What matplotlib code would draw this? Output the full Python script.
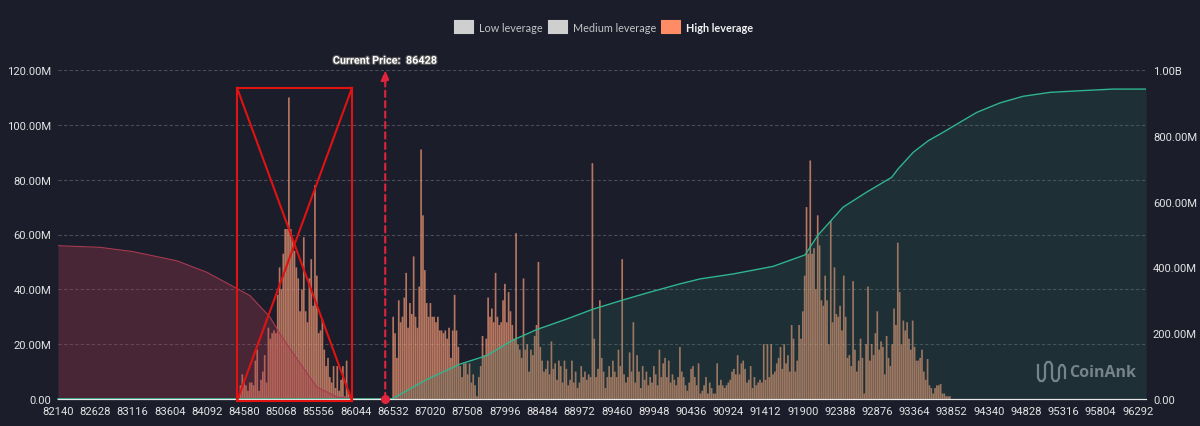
import matplotlib
matplotlib.use("Agg")
import matplotlib.pyplot as plt
import matplotlib.patheffects as pe
import numpy as np
from matplotlib.lines import Line2D
from matplotlib.patches import Patch, Rectangle

plt.rcParams["font.family"] = ["Roboto", "DejaVu Sans"]

BG = "#1b1d2b"

# x labels are every 20th bar, 488 apart
tick_prices = [82140 + 488 * k for k in range(30)]
price_step = 488 / 20
current_price = 86428

left_start = 98
left_bars = [5, 9, 6, 5, 3, 6, 6, 5, 14, 18,
             3, 7, 10, 16, 6, 26, 22, 24, 25, 24,
             38, 48, 40, 53, 62, 62, 110, 62, 58, 54,
             48, 44, 32, 40, 59, 32, 28, 44, 51, 34,
             78, 45, 24, 25, 29, 18, 12, 15, 8, 6,
             12, 4, 12, 3, 7, 12, 1, 14, 3]

right_start = 180
right_bars = [30, 24, 15, 36, 28, 30, 37, 46, 26, 35,
              31, 52, 30, 26, 41, 91, 67, 47, 35, 30,
              35, 30, 30, 28, 30, 25, 25, 24, 25, 22,
              26, 15, 25, 38, 25, 19, 12, 8, 13, 13,
              9, 13, 6, 9, 5, 1, 8, 12, 23, 16,
              22, 37, 30, 33, 28, 46, 30, 27, 28, 36,
              42, 28, 39, 32, 27, 22, 60.5, 20, 18, 15,
              44, 18, 20, 10, 18, 16, 23, 27, 50, 19,
              14, 10, 11, 14, 9, 21, 11, 13, 7, 14,
              12, 6, 14, 11, 5, 7, 14, 6, 10, 4,
              6, 12, 8, 10, 7, 9, 8, 86, 22, 8,
              11, 36, 15, 10, 4, 8, 12, 8, 14, 10,
              8, 18, 12, 51, 9, 6, 8, 17, 10, 28,
              6, 16, 10, 4, 12, 7, 10, 5, 8, 6,
              12, 9, 5, 18, 8, 13, 15, 8, 14, 6,
              9, 7, 5, 8, 19, 10, 8, 5, 3, 6,
              11, 12, 8, 5, 13, 2, 3, 5, 8, 2,
              6, 4, 2, 2, 13, 5, 7, 5, 4, 5,
              6, 7, 10, 11, 9, 16, 9, 13, 14, 11,
              6, 7, 12, 4, 8, 5, 6, 7, 6, 20,
              7, 20, 8, 20, 9, 10, 13, 15, 19, 11,
              20, 13, 16, 10, 27, 22, 10, 14, 27, 22,
              32, 45, 70, 53, 87, 53, 55, 40, 67, 56,
              36, 34, 45, 36, 20, 65, 28, 48, 31, 30,
              34, 25, 45, 30, 15, 16, 12, 43, 18, 10,
              14, 22, 15, 2, 20, 41, 14, 20, 16, 24,
              32, 18, 21, 19, 9, 23, 15, 12, 20, 33,
              27, 57, 39, 20, 28.6, 25, 28, 22, 18, 28.6,
              19, 14, 14, 15, 18, 10, 7, 14.6, 5, 4,
              2, 4, 5, 5, 5.5, 2, 2, 1, 1, 1]

# cumulative curves, right axis, in millions
short_prices = [86517, 86971, 87408, 87758, 88102, 88413, 88806, 89151, 89544,
                89854, 90291, 90553, 90985, 91509, 91929, 92099, 92427, 92738,
                93065, 93147, 93348, 93544, 93741, 93937, 94178, 94484, 94785,
                95139, 95532, 95965, 96397]
short_values = [0, 59, 106, 132, 179, 211, 243, 273, 301, 322, 350, 365, 380,
                403, 438, 498, 583, 629, 674, 699, 750, 785, 811, 838, 871, 900,
                920, 932, 937, 942, 942]
long_prices = [82140, 82690, 83123, 83699, 84092, 84499, 84656, 84918, 85049,
               85272, 85534, 85796, 86097, 86425]
long_values = [466, 461, 448, 420, 385, 334, 314, 249, 198, 122, 36, 6, 0, 0]

left_labels = ["0.00", "20.00M", "40.00M", "60.00M", "80.00M", "100.00M", "120.00M"]
right_labels = ["0.00", "200.00M", "400.00M", "600.00M", "800.00M", "1.00B"]


fig = plt.figure(figsize=(12, 4.27), dpi=100, facecolor=BG)
ax = fig.add_axes([58 / 1200, 27 / 427, 1088 / 1200, 329 / 427])
ax.set_facecolor(BG)
ax2 = ax.twinx()
ax2.patch.set_visible(False)

for start, vals in [(left_start, left_bars), (right_start, right_bars)]:
    xs = tick_prices[0] + (start + np.arange(len(vals))) * price_step
    bars = ax.bar(xs, vals, width=price_step * 0.9, color="#f59a74", alpha=0.72, linewidth=0)
    for b in bars:
        b.set_snap(False)

ax.set_xlim(82140, 96397)
ax.set_ylim(0, 120)
ax.set_yticks(range(0, 121, 20))
ax.set_yticklabels(left_labels)
ax.set_xticks(tick_prices)
ax.set_xticklabels([str(p) for p in tick_prices])
ax.grid(axis="y", color="#4a4c58", linestyle=(0, (3, 2)), linewidth=0.8)
ax.set_axisbelow(True)
ax.tick_params(axis="both", length=0, colors="#e2e2e2", labelsize=8.1, pad=5)

# curves plus the flat zero parts
ax2.fill_between(short_prices, short_values, color="#2f7a66", alpha=0.2, linewidth=0)
ax2.plot(short_prices, short_values, color="#2fb58f", linewidth=1)
ax2.fill_between(long_prices, long_values, color="#a83a4c", alpha=0.33, linewidth=0)
ax2.plot(long_prices, long_values, color="#a83a50", linewidth=0.8)
ax2.plot([82140, short_prices[0]], [0, 0], color="#2fb58f", linewidth=1.2, clip_on=False)
ax2.set_ylim(0, 1000)
ax2.set_yticks(range(0, 1001, 200))
ax2.set_yticklabels(right_labels)
ax2.tick_params(axis="y", length=0, colors="#e2e2e2", labelsize=8.1, pad=5)

for a in (ax, ax2):
    for name, spine in a.spines.items():
        spine.set_visible(name == "bottom")
        spine.set_color("#e8e8e8")

# current price marker
ax2.annotate("", xy=(current_price, 1000), xytext=(current_price, 0),
             arrowprops=dict(arrowstyle="-|>,head_width=0.25,head_length=0.6", color="#e0243c",
                             linestyle=(0, (3, 2)), linewidth=1.5, shrinkA=0, shrinkB=0))
ax2.plot([current_price], [0], "o", color="#e0243c", markersize=5.5, clip_on=False, zorder=6)
ax2.text(current_price, 1028, "Current Price:  86428", color="white", fontsize=7.8,
         fontweight="bold", ha="center", va="center", clip_on=False,
         path_effects=[pe.withStroke(linewidth=1.6, foreground="#555555")])

# crossed out box
box_x = [84486, 85993]
box_y = [-6, 946]
ax2.add_patch(Rectangle((box_x[0], box_y[0]), box_x[1] - box_x[0], box_y[1] - box_y[0],
                        fill=False, edgecolor="#e01212", linewidth=1.5, clip_on=False, zorder=7))
ax2.plot(box_x, box_y, color="#e01212", linewidth=1.5, clip_on=False, zorder=7)
ax2.plot(box_x, box_y[::-1], color="#e01212", linewidth=1.5, clip_on=False, zorder=7)

handles = [Patch(facecolor="#cfcfcf", edgecolor="#cfcfcf", linewidth=1.5, joinstyle="round"),
           Patch(facecolor="#cfcfcf", edgecolor="#cfcfcf", linewidth=1.5, joinstyle="round"),
           Patch(facecolor="#ff8c64", edgecolor="#ff8c64", linewidth=1.5, joinstyle="round")]
leg = fig.legend(handles, ["Low leverage", "Medium leverage", "High leverage"], ncol=3,
                 frameon=False, loc="center", bbox_to_anchor=(604 / 1200, 1 - 28 / 427),
                 prop={"family": "Lato", "size": 7.8}, handlelength=1.65, handleheight=1.2,
                 handletextpad=0.55, columnspacing=0.6)
for t, c, w in zip(leg.get_texts(), ["#c4c4c4", "#c4c4c4", "#f2f2f2"], ["normal", "normal", "bold"]):
    t.set_color(c)
    t.set_fontweight(w)

# watermark
logo_x = [1038, 1038, 1040, 1043, 1045, 1045, 1047, 1050, 1052, 1052, 1054, 1057, 1059, 1059, 1061, 1063, 1065, 1065]
logo_y = [366, 379, 382, 382, 379, 366, 363, 363, 366, 379, 382, 382, 379, 369, 366, 366, 369, 379]
fig.add_artist(Line2D(np.array(logo_x) / 1200, 1 - np.array(logo_y) / 427, color="#76838a",
                      linewidth=1.6, solid_joinstyle="round"))
fig.text(1069 / 1200, 1 - 373 / 427, "CoinAnk", color="#76838a", fontsize=11.5,
         fontweight="bold", family="Open Sans", va="center")

fig.savefig("out.png", dpi=100, facecolor=BG)
